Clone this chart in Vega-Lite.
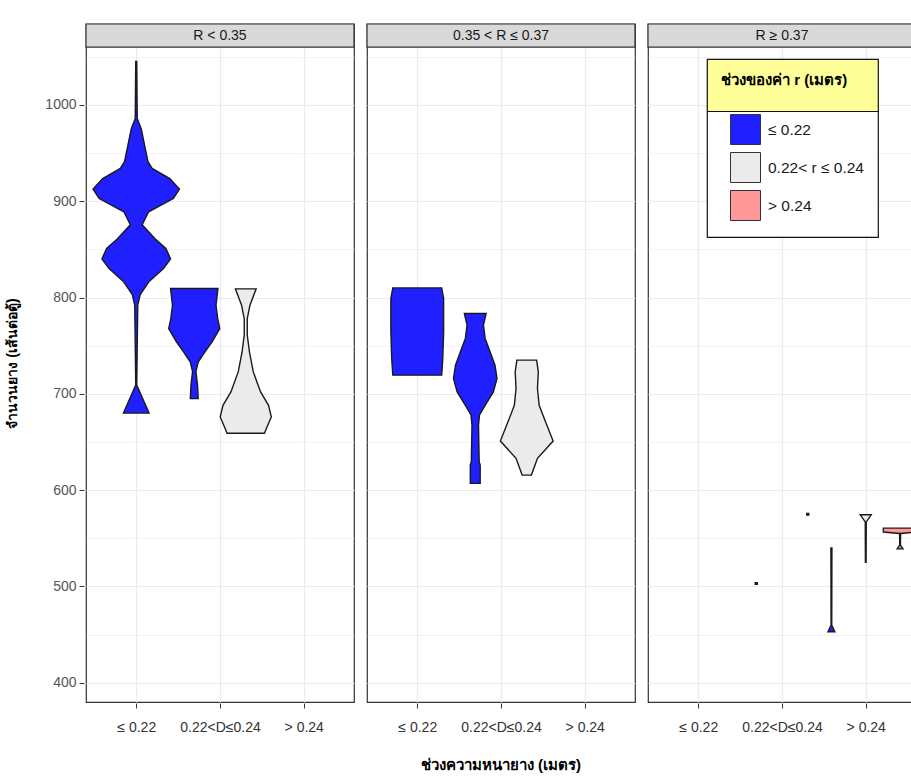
{
  "$schema": "https://vega.github.io/schema/vega-lite/v6.json",
  "background": "white",
  "padding": {"left": 5, "top": 22, "right": 0, "bottom": 5},
  "autosize": {"type": "pad"},
  "data": {
    "values": [
      {"p": "R < 0.35", "d": "≤ 0.22", "r": "≤ 0.22", "v": 1045, "w": 0.006},
      {"p": "R < 0.35", "d": "≤ 0.22", "r": "≤ 0.22", "v": 986, "w": 0.012},
      {"p": "R < 0.35", "d": "≤ 0.22", "r": "≤ 0.22", "v": 975, "w": 0.06},
      {"p": "R < 0.35", "d": "≤ 0.22", "r": "≤ 0.22", "v": 958, "w": 0.1},
      {"p": "R < 0.35", "d": "≤ 0.22", "r": "≤ 0.22", "v": 941, "w": 0.14},
      {"p": "R < 0.35", "d": "≤ 0.22", "r": "≤ 0.22", "v": 934, "w": 0.19},
      {"p": "R < 0.35", "d": "≤ 0.22", "r": "≤ 0.22", "v": 923.5, "w": 0.401},
      {"p": "R < 0.35", "d": "≤ 0.22", "r": "≤ 0.22", "v": 912.5, "w": 0.516},
      {"p": "R < 0.35", "d": "≤ 0.22", "r": "≤ 0.22", "v": 902.8, "w": 0.443},
      {"p": "R < 0.35", "d": "≤ 0.22", "r": "≤ 0.22", "v": 889, "w": 0.148},
      {"p": "R < 0.35", "d": "≤ 0.22", "r": "≤ 0.22", "v": 875.5, "w": 0.071},
      {"p": "R < 0.35", "d": "≤ 0.22", "r": "≤ 0.22", "v": 861, "w": 0.224},
      {"p": "R < 0.35", "d": "≤ 0.22", "r": "≤ 0.22", "v": 851, "w": 0.354},
      {"p": "R < 0.35", "d": "≤ 0.22", "r": "≤ 0.22", "v": 840, "w": 0.41},
      {"p": "R < 0.35", "d": "≤ 0.22", "r": "≤ 0.22", "v": 830, "w": 0.325},
      {"p": "R < 0.35", "d": "≤ 0.22", "r": "≤ 0.22", "v": 816, "w": 0.148},
      {"p": "R < 0.35", "d": "≤ 0.22", "r": "≤ 0.22", "v": 803, "w": 0.047},
      {"p": "R < 0.35", "d": "≤ 0.22", "r": "≤ 0.22", "v": 792, "w": 0.018},
      {"p": "R < 0.35", "d": "≤ 0.22", "r": "≤ 0.22", "v": 709, "w": 0.006},
      {"p": "R < 0.35", "d": "≤ 0.22", "r": "≤ 0.22", "v": 680, "w": 0.153},

      {"p": "R < 0.35", "d": "0.22<D≤0.24", "r": "≤ 0.22", "v": 809.4, "w": 0.283},
      {"p": "R < 0.35", "d": "0.22<D≤0.24", "r": "≤ 0.22", "v": 792, "w": 0.26},
      {"p": "R < 0.35", "d": "0.22<D≤0.24", "r": "≤ 0.22", "v": 778, "w": 0.28},
      {"p": "R < 0.35", "d": "0.22<D≤0.24", "r": "≤ 0.22", "v": 767.8, "w": 0.305},
      {"p": "R < 0.35", "d": "0.22<D≤0.24", "r": "≤ 0.22", "v": 754, "w": 0.213},
      {"p": "R < 0.35", "d": "0.22<D≤0.24", "r": "≤ 0.22", "v": 743.6, "w": 0.128},
      {"p": "R < 0.35", "d": "0.22<D≤0.24", "r": "≤ 0.22", "v": 733, "w": 0.047},
      {"p": "R < 0.35", "d": "0.22<D≤0.24", "r": "≤ 0.22", "v": 723, "w": 0.02},
      {"p": "R < 0.35", "d": "0.22<D≤0.24", "r": "≤ 0.22", "v": 709, "w": 0.039},
      {"p": "R < 0.35", "d": "0.22<D≤0.24", "r": "≤ 0.22", "v": 695, "w": 0.047},

      {"p": "R < 0.35", "d": "0.22<D≤0.24", "r": "0.22< r ≤ 0.24", "v": 809, "w": 0.124},
      {"p": "R < 0.35", "d": "0.22<D≤0.24", "r": "0.22< r ≤ 0.24", "v": 792, "w": 0.05},
      {"p": "R < 0.35", "d": "0.22<D≤0.24", "r": "0.22< r ≤ 0.24", "v": 778, "w": 0.018},
      {"p": "R < 0.35", "d": "0.22<D≤0.24", "r": "0.22< r ≤ 0.24", "v": 761, "w": 0.018},
      {"p": "R < 0.35", "d": "0.22<D≤0.24", "r": "0.22< r ≤ 0.24", "v": 743.6, "w": 0.044},
      {"p": "R < 0.35", "d": "0.22<D≤0.24", "r": "0.22< r ≤ 0.24", "v": 723, "w": 0.089},
      {"p": "R < 0.35", "d": "0.22<D≤0.24", "r": "0.22< r ≤ 0.24", "v": 702, "w": 0.177},
      {"p": "R < 0.35", "d": "0.22<D≤0.24", "r": "0.22< r ≤ 0.24", "v": 688, "w": 0.272},
      {"p": "R < 0.35", "d": "0.22<D≤0.24", "r": "0.22< r ≤ 0.24", "v": 676, "w": 0.305},
      {"p": "R < 0.35", "d": "0.22<D≤0.24", "r": "0.22< r ≤ 0.24", "v": 664, "w": 0.246},
      {"p": "R < 0.35", "d": "0.22<D≤0.24", "r": "0.22< r ≤ 0.24", "v": 659, "w": 0.224},

      {"p": "0.35 < R ≤ 0.37", "d": "≤ 0.22", "r": "≤ 0.22", "v": 810, "w": 0.292},
      {"p": "0.35 < R ≤ 0.37", "d": "≤ 0.22", "r": "≤ 0.22", "v": 799, "w": 0.315},
      {"p": "0.35 < R ≤ 0.37", "d": "≤ 0.22", "r": "≤ 0.22", "v": 764, "w": 0.315},
      {"p": "0.35 < R ≤ 0.37", "d": "≤ 0.22", "r": "≤ 0.22", "v": 736.7, "w": 0.305},
      {"p": "0.35 < R ≤ 0.37", "d": "≤ 0.22", "r": "≤ 0.22", "v": 719.4, "w": 0.292},

      {"p": "0.35 < R ≤ 0.37", "d": "0.22<D≤0.24", "r": "≤ 0.22", "v": 783.4, "w": 0.13},
      {"p": "0.35 < R ≤ 0.37", "d": "0.22<D≤0.24", "r": "≤ 0.22", "v": 771.3, "w": 0.098},
      {"p": "0.35 < R ≤ 0.37", "d": "0.22<D≤0.24", "r": "≤ 0.22", "v": 757.5, "w": 0.118},
      {"p": "0.35 < R ≤ 0.37", "d": "0.22<D≤0.24", "r": "≤ 0.22", "v": 743.6, "w": 0.177},
      {"p": "0.35 < R ≤ 0.37", "d": "0.22<D≤0.24", "r": "≤ 0.22", "v": 729.8, "w": 0.236},
      {"p": "0.35 < R ≤ 0.37", "d": "0.22<D≤0.24", "r": "≤ 0.22", "v": 716, "w": 0.26},
      {"p": "0.35 < R ≤ 0.37", "d": "0.22<D≤0.24", "r": "≤ 0.22", "v": 702, "w": 0.216},
      {"p": "0.35 < R ≤ 0.37", "d": "0.22<D≤0.24", "r": "≤ 0.22", "v": 688, "w": 0.118},
      {"p": "0.35 < R ≤ 0.37", "d": "0.22<D≤0.24", "r": "≤ 0.22", "v": 678, "w": 0.051},
      {"p": "0.35 < R ≤ 0.37", "d": "0.22<D≤0.24", "r": "≤ 0.22", "v": 667.5, "w": 0.039},
      {"p": "0.35 < R ≤ 0.37", "d": "0.22<D≤0.24", "r": "≤ 0.22", "v": 629.4, "w": 0.047},
      {"p": "0.35 < R ≤ 0.37", "d": "0.22<D≤0.24", "r": "≤ 0.22", "v": 626, "w": 0.059},
      {"p": "0.35 < R ≤ 0.37", "d": "0.22<D≤0.24", "r": "≤ 0.22", "v": 607, "w": 0.059},

      {"p": "0.35 < R ≤ 0.37", "d": "0.22<D≤0.24", "r": "0.22< r ≤ 0.24", "v": 735, "w": 0.118},
      {"p": "0.35 < R ≤ 0.37", "d": "0.22<D≤0.24", "r": "0.22< r ≤ 0.24", "v": 722.8, "w": 0.138},
      {"p": "0.35 < R ≤ 0.37", "d": "0.22<D≤0.24", "r": "0.22< r ≤ 0.24", "v": 705.5, "w": 0.128},
      {"p": "0.35 < R ≤ 0.37", "d": "0.22<D≤0.24", "r": "0.22< r ≤ 0.24", "v": 688, "w": 0.148},
      {"p": "0.35 < R ≤ 0.37", "d": "0.22<D≤0.24", "r": "0.22< r ≤ 0.24", "v": 670.9, "w": 0.224},
      {"p": "0.35 < R ≤ 0.37", "d": "0.22<D≤0.24", "r": "0.22< r ≤ 0.24", "v": 651, "w": 0.315},
      {"p": "0.35 < R ≤ 0.37", "d": "0.22<D≤0.24", "r": "0.22< r ≤ 0.24", "v": 633, "w": 0.128},
      {"p": "0.35 < R ≤ 0.37", "d": "0.22<D≤0.24", "r": "0.22< r ≤ 0.24", "v": 615.6, "w": 0.055},

      {"p": "R ≥ 0.37", "d": "0.22<D≤0.24", "r": "≤ 0.22", "v": 503.8, "w": 0.012},
      {"p": "R ≥ 0.37", "d": "0.22<D≤0.24", "r": "≤ 0.22", "v": 502.2, "w": 0.012},
      {"p": "R ≥ 0.37", "d": "0.22<D≤0.24", "r": "> 0.24", "v": 575.8, "w": 0.012},
      {"p": "R ≥ 0.37", "d": "0.22<D≤0.24", "r": "> 0.24", "v": 574.2, "w": 0.012},

      {"p": "R ≥ 0.37", "d": "> 0.24", "r": "≤ 0.22", "v": 540, "w": 0.006},
      {"p": "R ≥ 0.37", "d": "> 0.24", "r": "≤ 0.22", "v": 460, "w": 0.004},
      {"p": "R ≥ 0.37", "d": "> 0.24", "r": "≤ 0.22", "v": 453, "w": 0.041},
      {"p": "R ≥ 0.37", "d": "> 0.24", "r": "0.22< r ≤ 0.24", "v": 574.4, "w": 0.065},
      {"p": "R ≥ 0.37", "d": "> 0.24", "r": "0.22< r ≤ 0.24", "v": 567, "w": 0.006},
      {"p": "R ≥ 0.37", "d": "> 0.24", "r": "0.22< r ≤ 0.24", "v": 525, "w": 0.004},
      {"p": "R ≥ 0.37", "d": "> 0.24", "r": "> 0.24", "v": 560.5, "w": 0.2},
      {"p": "R ≥ 0.37", "d": "> 0.24", "r": "> 0.24", "v": 556.5, "w": 0.2},
      {"p": "R ≥ 0.37", "d": "> 0.24", "r": "> 0.24", "v": 555, "w": 0.006},
      {"p": "R ≥ 0.37", "d": "> 0.24", "r": "> 0.24", "v": 543, "w": 0.004},
      {"p": "R ≥ 0.37", "d": "> 0.24", "r": "> 0.24", "v": 539, "w": 0.035}
    ]
  },
  "transform": [
    {"calculate": "indexof(['≤ 0.22','0.22< r ≤ 0.24','> 0.24'], datum.r)", "as": "rIdx"},
    {"calculate": "indexof(['≤ 0.22','0.22<D≤0.24','> 0.24'], datum.d) + 1", "as": "dIdx"},
    {"joinaggregate": [{"op": "distinct", "field": "r", "as": "nr"}], "groupby": ["p", "d"]},
    {"window": [{"op": "dense_rank", "as": "rk"}], "sort": [{"field": "rIdx", "order": "ascending"}], "groupby": ["p", "d"]},
    {"calculate": "datum.dIdx + (datum.rk - (datum.nr + 1) / 2) * 1.23 / datum.nr", "as": "cx"},
    {"calculate": "datum.cx - datum.w", "as": "xl"},
    {"calculate": "datum.cx + datum.w", "as": "xr"}
  ],
  "facet": {
    "column": {
      "field": "p",
      "type": "nominal",
      "sort": ["R < 0.35", "0.35 < R ≤ 0.37", "R ≥ 0.37"],
      "title": "ช่วงความหนายาง (เมตร)",
      "header": {
        "labels": false,
        "titleOrient": "bottom",
        "titleFontSize": 15,
        "titleFontWeight": "bold",
        "titleColor": "#000",
        "titlePadding": 14
      }
    }
  },
  "spacing": 9,
  "spec": {
    "width": 268,
    "height": 678,
    "layer": [
      {
        "mark": {"type": "area", "orient": "horizontal", "stroke": "#1a1a1a", "strokeWidth": 1.4, "opacity": 1, "clip": true},
        "encoding": {
          "y": {
            "field": "v", "type": "quantitative",
            "scale": {"domain": [380, 1084], "nice": false, "zero": false},
            "axis": {
              "values": [400, 450, 500, 550, 600, 650, 700, 750, 800, 850, 900, 950, 1000, 1050],
              "format": "d",
              "labelExpr": "datum.value % 100 == 0 ? datum.label : ''",
              "tickOpacity": {"condition": {"test": "datum.value % 100 == 0", "value": 1}, "value": 0},
              "gridWidth": {"condition": {"test": "datum.value % 100 == 0", "value": 1.2}, "value": 0.6},
              "title": "จำนวนยาง (เส้นต่อตู้)",
              "titleFontSize": 14,
              "titleFontWeight": "bold",
              "titleColor": "#000",
              "titlePadding": 25,
              "labelFontSize": 14,
              "labelPadding": 3,
              "labelColor": "#555"
            }
          },
          "x": {
            "field": "xl", "type": "quantitative",
            "scale": {"domain": [0.4, 3.6], "nice": false, "zero": false},
            "axis": {
              "values": [1, 2, 3],
              "labelExpr": "datum.value == 1 ? '≤ 0.22' : datum.value == 2 ? '0.22<D≤0.24' : '> 0.24'",
              "title": null,
              "gridWidth": 1.2,
              "labelFontSize": 14,
              "labelPadding": 12,
              "labelColor": "#333",
              "labelFont": "Liberation Sans Narrow, Liberation Sans, sans-serif"
            }
          },
          "x2": {"field": "xr"},
          "detail": {"field": "d"},
          "fill": {
            "field": "r", "type": "nominal",
            "scale": {"domain": ["≤ 0.22", "0.22< r ≤ 0.24", "> 0.24"], "range": ["#1F1FFF", "#EBEBEB", "#FF9999"]},
            "legend": {
              "title": "ช่วงของค่า r (เมตร)",
              "encode": {
                "legend": {
                  "update": {
                    "fill": {"value": {"gradient": "linear", "x1": 0, "y1": 0, "x2": 0, "y2": 1, "stops": [
                      {"offset": 0, "color": "#FFFF99"},
                      {"offset": 0.29, "color": "#FFFF99"},
                      {"offset": 0.29, "color": "#111111"},
                      {"offset": 0.297, "color": "#111111"},
                      {"offset": 0.297, "color": "#FFFFFF"},
                      {"offset": 1, "color": "#FFFFFF"}
                    ]}},
                    "stroke": {"value": "#111"},
                    "strokeWidth": {"value": 1.2}
                  }
                }
              }
            }
          }
        }
      },
      {
        "transform": [{"aggregate": [{"op": "count", "as": "n"}], "groupby": ["p"]}],
        "mark": {"type": "rect", "fill": "#D9D9D9", "stroke": "#333", "strokeWidth": 1.2},
        "encoding": {
          "x": {"datum": 0.4},
          "x2": {"datum": 3.6},
          "y": {"datum": 1060},
          "y2": {"datum": 1084}
        }
      },
      {
        "transform": [{"aggregate": [{"op": "count", "as": "n"}], "groupby": ["p"]}],
        "mark": {"type": "text", "fontSize": 14, "font": "Liberation Sans Narrow, Liberation Sans, sans-serif", "color": "#1a1a1a", "baseline": "middle"},
        "encoding": {
          "x": {"datum": 2},
          "y": {"datum": 1072},
          "text": {"field": "p"}
        }
      }
    ]
  },
  "config": {
    "view": {"stroke": "#333", "strokeWidth": 1.2},
    "axis": {
      "domain": false,
      "grid": true,
      "gridColor": "#EBEBEB",
      "tickColor": "#333",
      "tickSize": 5,
      "labelFont": "Liberation Sans, sans-serif"
    },
    "legend": {
      "orient": "none",
      "legendX": 621,
      "legendY": 35,
      "titleFontSize": 15,
      "titleFontWeight": "bold",
      "titleColor": "#000",
      "titlePadding": 26,
      "padding": 14,
      "symbolType": "square",
      "symbolSize": 900,
      "symbolStrokeColor": "#333",
      "symbolStrokeWidth": 1,
      "symbolOpacity": 1,
      "symbolOffset": 9,
      "labelFontSize": 15.5,
      "labelOffset": 7,
      "labelColor": "#1a1a1a",
      "rowPadding": 3
    }
  }
}
